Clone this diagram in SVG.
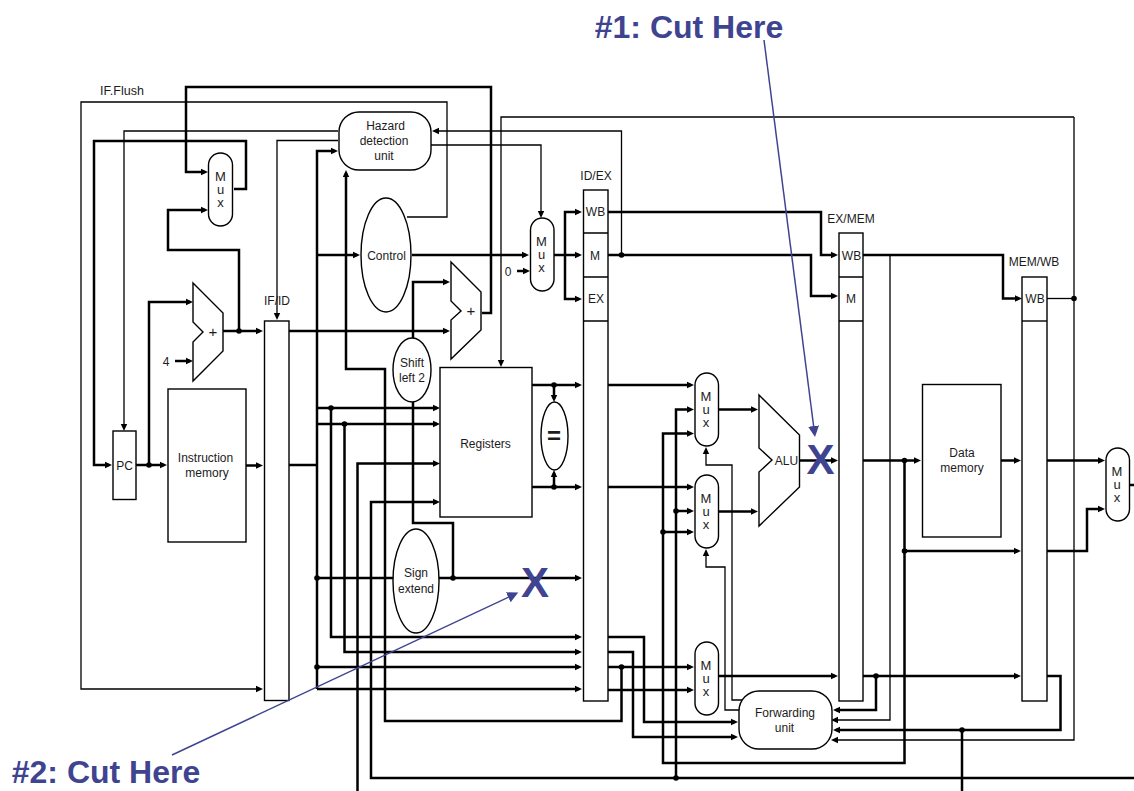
<svg xmlns="http://www.w3.org/2000/svg" width="1134" height="791" viewBox="0 0 1134 791">
<style>
text{font-family:"Liberation Sans",Arial,sans-serif;font-size:12px;fill:#1c1c1c;text-anchor:middle}
.m{font-size:13px}
.n{fill:#fff;stroke:#000;stroke-width:1.4}
.thin path{fill:none;stroke:#000;stroke-width:1.3}
.thick path{fill:none;stroke:#000;stroke-width:2.5}
.a{marker-end:url(#ah)}
.dots circle{fill:#000}
.blue{fill:#3f4491;font-weight:bold}
</style>
<defs>
<marker id="ah" markerUnits="userSpaceOnUse" markerWidth="8" markerHeight="8" refX="4" refY="4" orient="auto"><path d="M0,0.8 L7,4 L0,7.2 Z" fill="#000"/></marker>
<marker id="bh" markerUnits="userSpaceOnUse" markerWidth="14" markerHeight="14" refX="3" refY="6" orient="auto"><path d="M0,0.5 L11,6 L0,11.5 Z" fill="#3f4491"/></marker>
</defs>
<rect width="1134" height="791" fill="#fff"/>
<g id="connectors">
<g class="thin">
<path class="a" d="M407,217H447V102H81V689H260"/>
<path class="a" d="M338,131H124V428"/>
<path class="a" d="M338,140.500H277V317"/>
<path class="a" d="M621.500,255V131H435"/>
<path class="a" d="M431,145H541V215"/>
<path class="a" d="M1074,117H501V364"/>
<path class="a" d="M1074,117V740H834"/>
<path d="M1047,298.500H1074"/>
<path class="a" d="M890,255V720H834"/>
<path class="a" d="M742,700H732V465H706V450"/>
<path class="a" d="M739,710H725V567H706V552"/>
</g>
<g class="thick">
<path class="a" d="M482,313H491V87H186V172H205"/>
<path class="a" d="M234,189H246V141H94V465H109"/>
<path class="a" d="M239,331V250H168V210H205"/>
<path class="a" d="M223,331H260"/>
<path class="a" d="M175,361H190"/>
<path class="a" d="M149,465V302H190"/>
<path class="a" d="M136,465H164"/>
<path class="a" d="M246,465.500H260"/>
<path d="M289,465H317"/>
<path class="a" d="M289,331H447"/>
<path class="a" d="M317,689V151H335"/>
<path class="a" d="M317,255H357"/>
<path class="a" d="M412,255H526"/>
<path class="a" d="M517,271H527"/>
<path class="a" d="M554,255H579"/>
<path class="a" d="M565,255V212H579"/>
<path class="a" d="M565,255V299H579"/>
<path class="a" d="M413,338V282H447"/>
<path d="M413,402V523H453V578"/>
<path class="a" d="M385,500V369H346V173"/>
<path d="M385,500V721H621.500V667"/>
<path class="a" d="M532,385H579"/>
<path class="a" d="M532,487H579"/>
<path class="a" d="M554,385V399"/>
<path class="a" d="M554,487V473"/>
<path class="a" d="M317,408H437"/>
<path class="a" d="M317,424H437"/>
<path class="a" d="M357.500,791V463.500H437"/>
<path class="a" d="M1134,778H371V502H437"/>
<path class="a" d="M331,408V637H579"/>
<path class="a" d="M344.500,424V652H579"/>
<path class="a" d="M317,667H579"/>
<path class="a" d="M317,689H579"/>
<path d="M317,578H393"/>
<path class="a" d="M439,578H579"/>
<path class="a" d="M608,385H691"/>
<path class="a" d="M608,487H691"/>
<path class="a" d="M676,778V409.500H691"/>
<path class="a" d="M904.500,460.500V763H663V433.500H691"/>
<path class="a" d="M676,511H691"/>
<path class="a" d="M663,532H691"/>
<path class="a" d="M718,409.500H755"/>
<path class="a" d="M718,511.500H755"/>
<path class="a" d="M799,460.500H835"/>
<path class="a" d="M608,212H821V255H835"/>
<path class="a" d="M608,255H811V296H835"/>
<path class="a" d="M608,637H644V722H735"/>
<path class="a" d="M608,652H633V737H735"/>
<path class="a" d="M608,667H691"/>
<path class="a" d="M608,690H691"/>
<path class="a" d="M718,676H835"/>
<path class="a" d="M863,255H1003V298.500H1019"/>
<path class="a" d="M863,460.500H918"/>
<path class="a" d="M904.500,551H1018"/>
<path class="a" d="M1001,460.500H1018"/>
<path class="a" d="M1047,460.500H1102"/>
<path class="a" d="M1047,551H1087V509H1102"/>
<path d="M1129,485H1134"/>
<path class="a" d="M863,676H1018"/>
<path class="a" d="M876,676V710H836"/>
<path class="a" d="M1047,676H1060.500V730H836"/>
<path d="M962,730V791"/>
</g>
<g class="dots">
<circle cx="239" cy="331" r="2.800"/><circle cx="149" cy="465" r="2.800"/><circle cx="621.500" cy="255" r="2.800"/><circle cx="554" cy="385" r="2.800"/><circle cx="554" cy="487" r="2.800"/><circle cx="331" cy="408" r="2.800"/><circle cx="344.500" cy="424" r="2.800"/><circle cx="317" cy="578" r="2.800"/><circle cx="317" cy="667" r="2.800"/><circle cx="453" cy="578" r="2.800"/><circle cx="621.500" cy="667" r="2.800"/><circle cx="676" cy="511" r="2.800"/><circle cx="663" cy="532" r="2.800"/><circle cx="904.500" cy="460.500" r="2.800"/><circle cx="904.500" cy="551" r="2.800"/><circle cx="876" cy="676" r="2.800"/><circle cx="962" cy="730" r="2.800"/><circle cx="1074" cy="298.500" r="2.800"/><circle cx="676" cy="778" r="2.800"/>
</g>
</g>
<text x="122" y="95" style="font-size:12.500px">IF.Flush</text>
<g id="pc"><rect class="n" x="113" y="431" width="23" height="68.500"/><text x="124.500" y="469.500">PC</text></g>
<g id="mux-pc"><rect class="n" x="208.500" y="153" width="24" height="73" rx="12"/><text class="m" x="220.500" y="181">M</text><text class="m" x="220.500" y="194">u</text><text class="m" x="220.500" y="207">x</text></g>
<g id="adder-pc"><path class="n" d="M193,283L223,313V351L193,381V342L203,332L193,322Z"/><text x="213" y="337" style="font-size:15px">+</text></g>
<text x="166" y="366">4</text>
<g id="instruction-memory"><rect class="n" x="168" y="389" width="78" height="153"/><text x="205.500" y="462">Instruction</text><text x="207" y="477">memory</text></g>
<g id="if-id"><rect class="n" x="264.500" y="321" width="24.500" height="379.500"/><text x="277" y="305">IF/ID</text></g>
<g id="hazard"><rect class="n" x="339" y="112" width="92" height="58" rx="20"/><text x="385.500" y="129.500">Hazard</text><text x="384" y="145">detection</text><text x="384" y="160">unit</text></g>
<g id="control"><ellipse class="n" cx="386" cy="255" rx="25" ry="57"/><text x="386.500" y="260">Control</text></g>
<g id="adder-branch"><path class="n" d="M451,262L481,292V330L451,359V320L461,311L451,301Z"/><text x="471" y="316" style="font-size:15px">+</text></g>
<g id="shift"><ellipse class="n" cx="412" cy="370" rx="19" ry="32"/><text x="412" y="367">Shift</text><text x="412" y="382">left 2</text></g>
<g id="mux-ctrl"><rect class="n" x="530.500" y="218" width="23.500" height="73" rx="12"/><text class="m" x="541.500" y="246">M</text><text class="m" x="541.500" y="259">u</text><text class="m" x="541.500" y="272">x</text></g>
<text x="508" y="276">0</text>
<g id="registers"><rect class="n" x="440" y="367.500" width="92" height="149.500"/><text x="485.500" y="448">Registers</text></g>
<g id="equals"><ellipse class="n" cx="554.500" cy="436" rx="13.500" ry="34"/><text x="554" y="444" style="font-size:24px;font-weight:bold">=</text></g>
<g id="sign-extend"><ellipse class="n" cx="416" cy="581" rx="23" ry="52"/><text x="416" y="577">Sign</text><text x="416" y="593">extend</text></g>
<g id="id-ex"><rect class="n" x="583.500" y="190" width="24.500" height="511"/><path class="n" d="M583.500,233H608M583.500,277H608M583.500,321H608"/><text x="595.500" y="215.500">WB</text><text x="595" y="260">M</text><text x="596" y="303">EX</text><text x="596" y="180">ID/EX</text></g>
<g id="mux-a"><rect class="n" x="695" y="373" width="23.500" height="73" rx="12"/><text class="m" x="706" y="401">M</text><text class="m" x="706" y="414">u</text><text class="m" x="706" y="427">x</text></g>
<g id="mux-b"><rect class="n" x="695" y="475" width="23.500" height="73" rx="12"/><text class="m" x="706" y="503">M</text><text class="m" x="706" y="516">u</text><text class="m" x="706" y="529">x</text></g>
<g id="mux-c"><rect class="n" x="695" y="642" width="23.500" height="73" rx="12"/><text class="m" x="706" y="670">M</text><text class="m" x="706" y="683">u</text><text class="m" x="706" y="696">x</text></g>
<g id="alu"><path class="n" d="M759,395L799.500,435V487L759,526V472L772,460L759,448Z"/><text x="786.500" y="465">ALU</text></g>
<g id="forwarding"><rect class="n" x="739" y="691" width="93" height="58" rx="20"/><text x="785" y="717">Forwarding</text><text x="784.500" y="732">unit</text></g>
<g id="ex-mem"><rect class="n" x="839" y="233" width="24" height="468"/><path class="n" d="M839,277H863M839,321H863"/><text x="851.500" y="260">WB</text><text x="851" y="303">M</text><text x="851" y="223">EX/MEM</text></g>
<g id="data-memory"><rect class="n" x="922.500" y="384.500" width="78.500" height="152.500"/><text x="962" y="457">Data</text><text x="962" y="472">memory</text></g>
<g id="mem-wb"><rect class="n" x="1022" y="277" width="25" height="424"/><path class="n" d="M1022,321H1047"/><text x="1035" y="303">WB</text><text x="1034" y="266">MEM/WB</text></g>
<g id="mux-wb"><rect class="n" x="1106" y="448" width="23.500" height="73" rx="12"/><text class="m" x="1117" y="476">M</text><text class="m" x="1117" y="489">u</text><text class="m" x="1117" y="502">x</text></g>
<g id="cuts">
<path d="M764,40L814,429" fill="none" stroke="#3f4491" stroke-width="1.500" marker-end="url(#bh)"/>
<path d="M172,755L511,596" fill="none" stroke="#3f4491" stroke-width="1.500" marker-end="url(#bh)"/>
<text class="blue" x="689" y="38" style="font-size:32px">#1: Cut Here</text>
<text class="blue" x="106" y="783" style="font-size:32px">#2: Cut Here</text>
<text class="blue" x="535" y="597" style="font-size:42px">X</text>
<text class="blue" x="820.500" y="474" style="font-size:42px">X</text>
</g>
</svg>
